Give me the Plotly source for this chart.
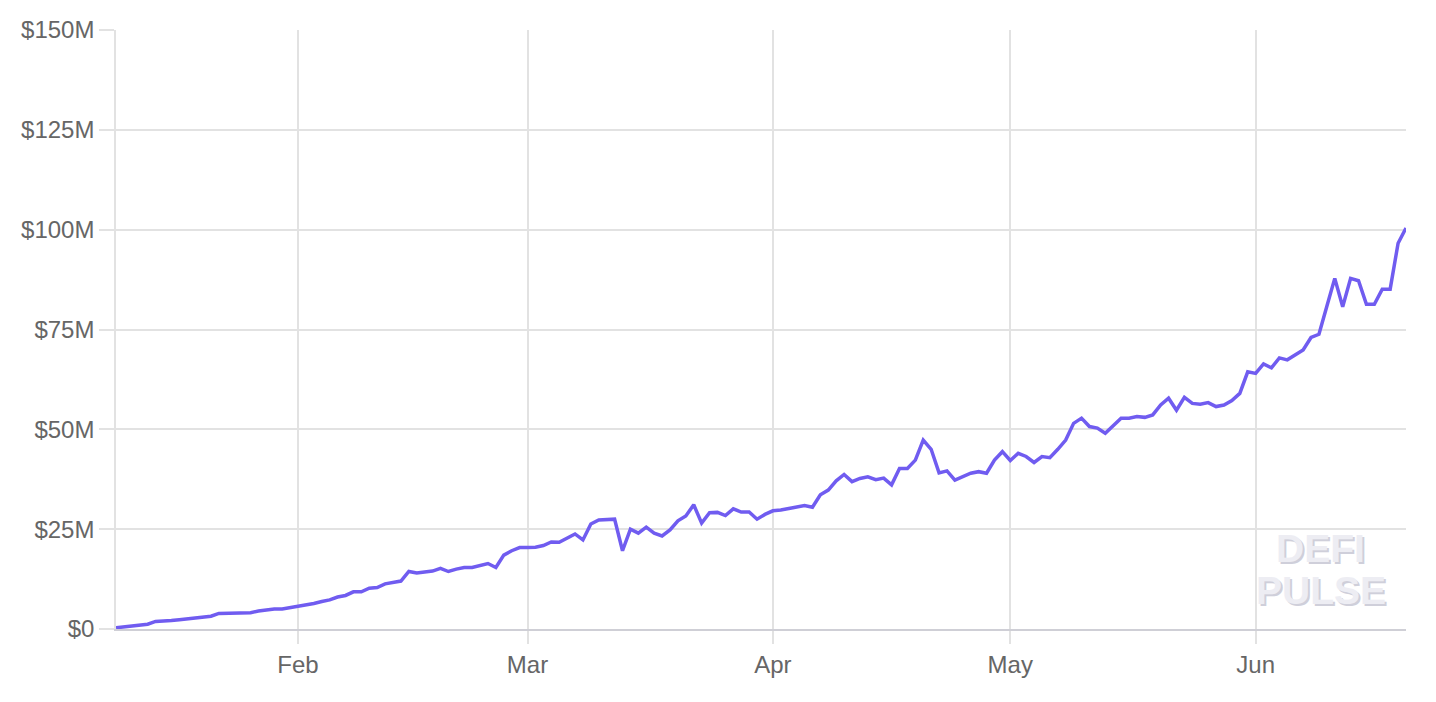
import pandas as pd
import plotly.graph_objects as go

# Daily total value locked (USD millions), starting 2020-01-09
start_date = "2020-01-09"
tvl_musd = [
    0.3, 0.5, 0.8, 1.0, 1.2, 1.9, 1.9, 2.1, 2.3, 2.5,
    2.7, 2.9, 3.2, 3.9, 4.0, 4.0, 4.1, 4.1, 4.5, 4.8,
    5.0, 5.0, 5.3, 5.6, 6.0, 6.4, 6.9, 7.3, 8.0, 8.4,
    9.3, 9.3, 10.2, 10.4, 11.3, 11.7, 12.0, 14.4, 14.0, 14.3,
    14.5, 15.2, 14.4, 15.0, 15.4, 15.4, 16.0, 16.4, 15.4, 18.5,
    19.6, 20.4, 20.4, 20.5, 20.9, 21.8, 21.7, 22.8, 23.8, 22.3,
    26.3, 27.3, 27.4, 27.5, 19.6, 25.0, 24.0, 25.5, 24.0, 23.3,
    24.8, 27.1, 28.3, 31.1, 26.5, 29.1, 29.2, 28.4, 30.1, 29.3,
    29.3, 27.5, 28.7, 29.6, 29.8, 30.2, 30.5, 30.9, 30.5, 33.6,
    34.8, 37.1, 38.7, 36.9, 37.7, 38.1, 37.4, 37.8, 36.1, 40.2,
    40.2, 42.3, 47.3, 45.0, 39.1, 39.6, 37.3, 38.1, 39.0, 39.4,
    39.0, 42.3, 44.4, 42.2, 44.0, 43.2, 41.7, 43.2, 42.9, 45.0,
    47.3, 51.5, 52.8, 50.7, 50.3, 49.0, 50.8, 52.8, 52.8, 53.2,
    53.0, 53.6, 56.1, 57.8, 54.8, 58.0, 56.5, 56.3, 56.7, 55.7,
    56.1, 57.2, 59.0, 64.4, 64.0, 66.4, 65.4, 67.9, 67.4, 68.6,
    69.9, 73.0, 73.8, 80.8, 87.8, 80.7, 87.8, 87.2, 81.3, 81.3,
    85.1, 85.1, 96.6, 100.4,
]
dates = pd.date_range(start_date, periods=len(tvl_musd), freq="D")

x_tick_dates = ["2020-02-01", "2020-03-01", "2020-04-01", "2020-05-01", "2020-06-01"]
x_tick_labels = ["Feb", "Mar", "Apr", "May", "Jun"]
y_tick_vals = [0, 25, 50, 75, 100, 125, 150]
y_tick_labels = ["$0", "$25M", "$50M", "$75M", "$100M", "$125M", "$150M"]
watermark_words = ["DEFI", "PULSE"]

grid = "#e2e2e2"
font_family = "Liberation Sans, Arial, Helvetica, sans-serif"

fig = go.Figure()
fig.add_trace(go.Scatter(
    x=dates, y=tvl_musd, mode="lines",
    line=dict(color="#705cf0", width=3.5),
    hoverinfo="x+y",
))

fig.update_layout(
    width=1420, height=686,
    margin=dict(l=108, r=22, t=22, b=65),
    paper_bgcolor="white", plot_bgcolor="white",
    showlegend=False,
    font=dict(family=font_family, size=24, color="#666666"),
    xaxis=dict(
        range=[dates[0], dates[-1]],
        tickvals=x_tick_dates, ticktext=x_tick_labels,
        showgrid=True, gridcolor=grid, gridwidth=1.5,
        ticks="outside", ticklen=13, tickcolor=grid, tickwidth=1.5,
        showline=True, linecolor="#cfcfd6", linewidth=2,
        zeroline=False, automargin=False,
        tickfont=dict(size=24, color="#666666"),
    ),
    yaxis=dict(
        range=[0, 150],
        tickvals=y_tick_vals, ticktext=y_tick_labels,
        showgrid=True, gridcolor=grid, gridwidth=1.5,
        ticks="outside", ticklen=15, tickcolor=grid, tickwidth=1.5,
        showline=True, linecolor=grid, linewidth=1.5,
        zeroline=False, automargin=False,
        tickfont=dict(size=24, color="#666666"),
    ),
)

# Watermark
for word, ypos in zip(watermark_words, [0.134, 0.064]):
    for dx, dy, col in [(2, -2, "#cfcfda"), (0, 0, "#ededf3")]:
        fig.add_annotation(
            xref="paper", yref="paper", x=0.934, y=ypos,
            xanchor="center", yanchor="middle",
            xshift=dx, yshift=dy,
            text=word, showarrow=False,
            font=dict(family="Liberation Sans, Arial, sans-serif", size=39, color=col, weight="bold"),
        )

fig.write_html("out.html")
